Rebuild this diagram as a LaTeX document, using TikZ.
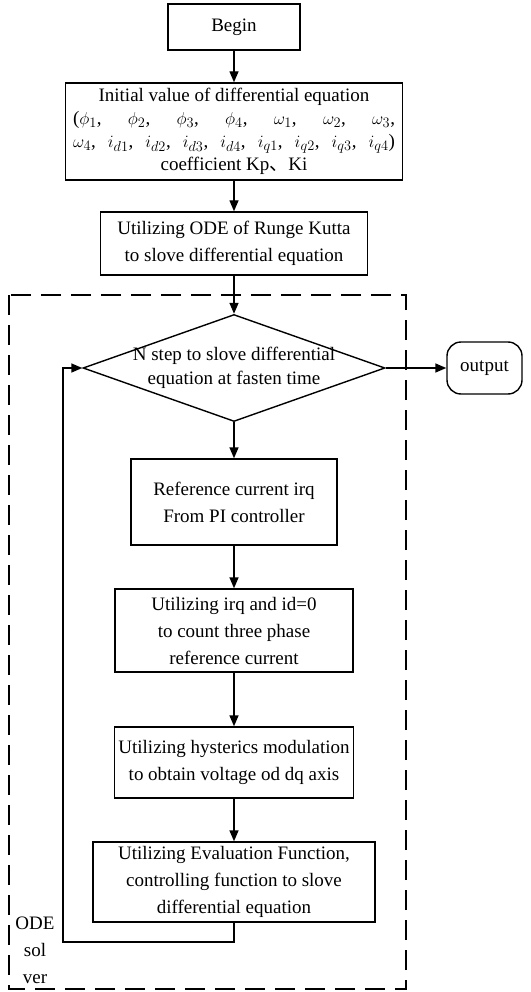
\documentclass[tikz,border=0pt]{standalone}
\usepackage{amsmath}
\usepackage{fontspec}
\setmainfont{Liberation Serif}
\newfontfamily\cjk{Noto Sans CJK SC}
\usetikzlibrary{positioning, calc, shapes, arrows.meta}
\newcommand{\cm}{,\hfil}
\newcommand{\spreadline}[1]{\hbox to 322pt{#1}}

\begin{document}
\begin{tikzpicture}[
        x=1pt, y=-1pt,
        box/.style={draw, line width=1.4pt, align=center, inner sep=2pt,
            font=\fontsize{19}{27}\selectfont},
        decide/.style={draw, line width=1.4pt, diamond, inner sep=0pt,
            minimum width=302pt, minimum height=107pt},
        term/.style={draw, line width=1.4pt, rounded corners=14pt,
            minimum width=75pt, minimum height=52pt, font=\fontsize{19}{27}\selectfont},
        flow/.style={line width=1.4pt, -{Triangle[length=11pt, width=9pt]}},
        solver/.style={draw, line width=1.6pt, dash pattern=on 20pt off 10pt},
    ]
    \useasboundingbox (0,0) rectangle (530,992);

    % dashed region of the solver
    \draw[solver] (9,295) rectangle (406,989);
    \node[align=center, font=\fontsize{19}{27}\selectfont] (odelab) at (35,950) {ODE\\sol\\ver};

    \node[box, minimum width=132pt, minimum height=46pt] (begin) at (234,27) {Begin};
    \node[box, minimum width=337pt, minimum height=97pt, font=\fontsize{19}{23}\selectfont] (init) at (234,131.5)
        {Initial value of differential equation\\
         \spreadline{($\phi_1$\cm$\phi_2$\cm$\phi_3$\cm$\phi_4$\cm$\omega_1$\cm$\omega_2$\cm$\omega_3$,}\\
         \spreadline{$\omega_4$\cm$i_{d1}$\cm$i_{d2}$\cm$i_{d3}$\cm$i_{d4}$\cm$i_{q1}$\cm$i_{q2}$\cm$i_{q3}$\cm$i_{q4}$)}\\
         coefficient Kp{\cjk 、}Ki};
    \node[box, minimum width=267pt, minimum height=63pt] (rk) at (234,243.5)
        {Utilizing ODE of Runge Kutta\\to slove differential equation};

    \node[decide] (nstep) at (234,368) {};
    \node[align=center, font=\fontsize{19}{24}\selectfont] (nsteptext) at (nstep.center)
        {N step to slove differential\\equation at fasten time};
    \node[term] (output) at (484.5,368) {output};

    \node[box, minimum width=206pt, minimum height=86pt] (irqref) at (234,502)
        {Reference current irq\\From PI controller};
    \node[box, minimum width=238pt, minimum height=83pt] (phase) at (234,630.5)
        {Utilizing irq and id=0\\to count three phase\\reference current};
    \node[box, minimum width=239pt, minimum height=71pt] (hyst) at (234,762.5)
        {Utilizing hysterics modulation\\to obtain voltage od dq axis};
    \node[box, minimum width=282pt, minimum height=80pt] (evalf) at (234,882)
        {Utilizing Evaluation Function,\\controlling function to slove\\differential equation};

    \coordinate (back) at (63,942);

    \draw[flow] (begin) -- (init);
    \draw[flow] (init) -- (rk);
    \draw[flow] (rk) -- (nstep.north);
    \draw[flow] (nstep.east) -- (output);
    \draw[flow] (nstep.south) -- (irqref);
    \draw[flow] (irqref) -- (phase);
    \draw[flow] (phase) -- (hyst);
    \draw[flow] (hyst) -- (evalf);
    \draw[flow] (evalf.south) |- (back) |- (nstep.west);

\end{tikzpicture}
\end{document}
